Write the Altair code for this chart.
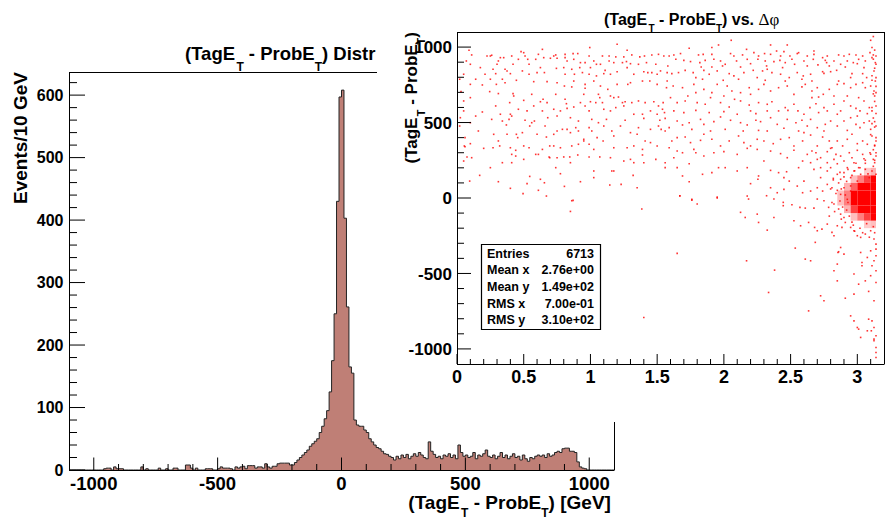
import altair as alt
import pandas as pd

FONT = "Liberation Sans"
FILL = "#bf7f76"
RED = "#ff0000"

# ------------------------------------------------------------------ data
# (TagE_T - ProbE_T) histogram, 10 GeV bins from -1100 to 1100 (counts)
cnt_m1100_m600 = [0, 0, 0, 0, 0, 0, 0, 0, 0, 0,
                  0, 0, 0, 0, 2, 3, 3, 0, 5, 2,
                  2, 2, 0, 0, 0, 0, 0, 0, 0, 5,
                  0, 2, 0, 0, 0, 0, 3, 0, 0, 2,
                  0, 0, 3, 3, 0, 0, 0, 8, 8, 3]
cnt_m600_m100 = [0, 3, 0, 0, 0, 2, 2, 2, 0, 0,
                 2, 5, 3, 3, 3, 2, 0, 5, 3, 5,
                 6, 2, 7, 7, 7, 3, 5, 5, 3, 10,
                 5, 3, 6, 6, 10, 11, 11, 11, 11, 8,
                 8, 12, 16, 20, 24, 28, 32, 38, 42, 46]
cnt_m100_200 = [50, 60, 70, 82, 95, 125, 175, 250, 430, 597,
                608, 403, 261, 165, 155, 80, 72, 70, 70, 64,
                60, 50, 45, 40, 36, 34, 30, 26, 25, 22]
cnt_200_600 = [20, 16, 22, 18, 24, 20, 25, 18, 22, 26,
               22, 28, 24, 20, 18, 45, 30, 25, 20, 22,
               18, 24, 22, 26, 20, 24, 18, 40, 28, 22,
               24, 20, 22, 28, 18, 24, 22, 26, 32, 22]
cnt_600_1100 = [20, 24, 18, 22, 28, 20, 24, 18, 22, 26,
                20, 22, 16, 24, 18, 14, 20, 18, 22, 24,
                22, 24, 20, 26, 22, 24, 28, 30, 28, 34,
                35, 35, 30, 30, 28, 13, 5, 3, 2, 0,
                0, 0, 0, 0, 0, 0, 0, 0, 0, 0]
hist_counts = cnt_m1100_m600 + cnt_m600_m100 + cnt_m100_200 + cnt_200_600 + cnt_600_1100
bin_lo = list(range(-1100, 1100, 10))

hist_x_major = [-1000, -500, 0, 500, 1000]
hist_x_labels = ["-1000", "-500", "0", "500", "1000"]
hist_x_minor = [-900, -800, -700, -600, -400, -300, -200, -100,
                100, 200, 300, 400, 600, 700, 800, 900]
hist_y_major = [0, 100, 200, 300, 400, 500, 600]
hist_y_labels = ["0", "100", "200", "300", "400", "500", "600"]
hist_y_minor = [20, 40, 60, 80, 120, 140, 160, 180, 220, 240, 260, 280, 320, 340, 360, 380,
                420, 440, 460, 480, 520, 540, 560, 580, 620]

# (TagE_T - ProbE_T) vs. delta-phi scatter: points (dphi, dEt)
pts_left = [(1.20,1019),(0.995,997),(1.275,979),(0.64,985),(0.09,979),(0.48,970),(0.87,957),
(0.11,948),(0.225,941),(0.25,941),(0.26,946),(0.325,930),(0.35,930),(0.41,941),(0.50,963),(0.51,941),(0.61,952),(0.725,941),(0.74,948),(0.81,952),(0.81,930),(0.905,957),(0.99,941),(1.09,941),(1.14,941),(1.19,935),(1.25,935),(1.31,948),(1.37,935),(1.405,941),(1.46,948),(1.51,952),(1.55,941),(1.59,941),
(0.07,908),(0.31,908),(0.46,919),(0.53,919),(0.59,919),(0.65,930),(0.70,926),(0.75,926),(0.825,908),(0.875,919),(0.925,897),(0.96,897),(1.025,908),(1.075,886),(1.14,908),(1.175,897),(1.24,897),(1.27,904),(1.30,890),(1.36,886),(1.42,897),(1.49,886),(1.58,875),
(0.10,886),(0.175,864),(0.27,853),(0.30,886),(0.36,853),(0.375,842),(0.42,886),(0.49,842),(0.54,886),(0.625,864),(0.745,859),(0.80,864),(0.86,853),(0.92,864),(1.00,864),(1.045,886),(1.11,846),(1.20,837),(1.275,864),(1.40,837),(1.46,831),(1.525,842),(1.575,831),
(0.05,820),(0.21,820),(0.29,824),(0.40,824),(0.54,820),(0.60,831),(0.655,831),(0.81,820),(0.88,820),(0.94,831),(0.99,820),(1.045,809),(1.10,824),(1.15,820),(1.325,820),(1.43,831),(1.50,820),
(0.02,787),(0.14,787),(0.19,749),(0.25,787),(0.295,753),(0.36,764),(0.445,780),(0.575,771),(0.675,771),(0.75,764),(0.805,742),(0.875,775),(0.96,753),(1.025,775),(1.075,742),(1.13,720),(1.20,753),(1.28,753),(1.30,764),(1.39,775),(1.445,775),(1.50,753),(1.575,775),(0.10,753),(0.34,787),(0.86,736),(0.96,727),(1.57,731),
(0.03,705),(0.245,705),(0.31,692),(0.42,692),(0.425,676),(0.56,687),(0.645,654),(0.74,687),(0.81,654),(0.95,687),(1.06,687),(1.07,665),(1.15,676),(1.175,665),(1.21,669),(1.26,638),(1.36,643),(1.41,632),(1.475,638),(1.545,632),(1.60,665),(0.05,643),(0.10,665),(0.395,632),(0.50,647),(0.625,638),(0.675,632),(0.82,625),(0.925,632),(1.00,638),(1.04,632),(1.09,632),(1.24,632),(1.31,632),(1.51,610),(1.54,588),
(0.05,577),(0.14,543),(0.19,570),(0.29,610),(0.325,555),(0.40,555),(0.41,543),(0.46,588),(0.525,577),(0.575,610),(0.64,577),(0.68,532),(0.725,588),(0.775,577),(0.825,594),(0.875,603),(0.96,610),(0.99,577),(1.10,588),(1.15,577),(1.19,599),(1.25,610),(1.325,555),(1.39,555),(1.45,577),(1.50,555),(1.555,566),(0.025,532),(0.26,521),(0.34,510),(0.39,521),(0.51,515),(0.58,510),(0.75,543),(0.85,532),(0.91,510),(1.01,521),(1.06,499),(1.12,521),(1.26,515),(1.40,528),(1.52,515),(1.56,528),(0.10,499),
(0.02,477),(0.16,444),(0.275,422),(0.37,484),(0.445,422),(0.49,433),(0.545,477),(0.56,499),(0.66,477),(0.75,444),(0.79,455),(0.825,455),(0.89,466),(0.91,444),(0.99,466),(1.01,444),(1.10,477),(1.16,444),(1.225,477),(1.30,433),(1.36,466),(1.45,455),(1.51,477),(1.53,455),(1.56,444),(1.59,466),(0.06,400),(0.375,422),(0.455,400),(0.60,422),(0.67,404),(0.725,422),(0.85,433),(0.95,389),(1.05,400),(1.175,411),(1.35,422),
(0.055,345),(0.06,340),(0.10,360),(0.20,329),(0.27,333),(0.32,345),(0.40,333),(0.44,316),(0.50,345),(0.54,333),(0.59,289),(0.695,345),(0.725,345),(0.775,333),(0.86,345),(0.91,356),(0.99,356),(1.025,322),(1.095,378),(1.175,333),(1.275,333),(1.325,345),(1.39,322),(1.45,367),(1.50,345),(1.59,333),(0.31,378),(1.41,378),(0.64,322),(0.95,378),
(0.075,272),(0.11,267),(0.41,289),(0.44,278),(0.61,289),(0.69,272),(0.695,267),(0.75,267),(0.80,272),(0.845,272),(0.905,285),(0.99,272),(1.07,272),(1.15,267),(1.25,245),(1.30,256),(1.39,285),(1.49,256),(1.56,234),(0.05,245),(0.25,201),(0.34,234),(0.41,234),(0.50,256),(0.74,201),(0.85,234),(1.025,179),(1.16,179),(1.325,234),(1.40,234),
(0.17,150),(0.095,112),(0.31,108),(0.40,64),(0.495,29),(0.545,143),(0.625,124),(0.655,101),(0.67,13),(0.775,161),(0.805,77),(0.87,-16),(0.925,108),(1.025,135),(1.145,86),(1.175,179),(1.23,90),(1.32,150),(1.35,68),(1.56,201),(0.525,95),(0.61,51)]

pts_right = [(2.055,1045),(3.10,1045),(1.91,997),(1.96,1014),(2.35,1014),(2.475,1014),(1.74,992),(2.17,985),(3.11,997),
(1.625,948),(1.675,957),(1.81,948),(1.845,952),(1.91,952),(2.05,957),(2.075,941),(2.14,948),(2.225,963),(2.26,941),(2.305,957),(2.35,952),(2.395,974),(2.425,941),(2.45,970),(2.495,941),(2.56,963),(2.625,941),(2.675,952),(2.74,930),(2.775,941),(2.86,948),(2.90,941),(2.94,952),(2.99,948),(3.04,941),(3.095,963),(3.12,948),(3.14,941),(2.675,974),(2.55,957),
(1.64,919),(1.70,912),(1.75,904),(1.82,897),(1.86,912),(1.925,919),(1.975,908),(2.01,886),(2.095,908),(2.175,919),(2.20,890),(2.255,919),(2.31,908),(2.375,904),(2.42,912),(2.46,897),(2.51,919),(2.60,908),(2.67,919),(2.76,912),(2.77,897),(2.825,908),(2.875,886),(2.925,908),(2.97,897),(3.01,919),(3.06,908),(3.11,930),(3.135,897),(1.83,868),(1.91,868),(1.99,875),(2.125,868),(2.32,875),(2.44,864),(2.53,886),(2.625,875),(2.705,882),(2.79,875),(2.91,868),(3.00,890),(3.05,864),(3.14,886),
(1.61,824),(1.66,831),(1.71,846),(1.77,831),(1.85,846),(1.89,820),(1.95,842),(2.04,824),(2.075,809),(2.15,831),(2.22,846),(2.29,842),(2.325,853),(2.36,831),(2.425,820),(2.49,798),(2.55,831),(2.595,809),(2.65,820),(2.74,837),(2.75,826),(2.80,837),(2.845,846),(2.96,824),(3.04,824),(3.125,842),(3.14,798),(1.79,798),(1.84,787),(1.995,780),(2.11,787),(2.25,798),(2.31,780),(2.46,775),(2.585,787),(2.66,775),(2.86,775),(2.95,798),(3.07,798),(3.135,775),
(1.62,742),(1.69,731),(1.775,753),(1.79,698),(1.85,720),(1.91,698),(1.95,753),(2.025,742),(2.06,709),(2.125,698),(2.19,731),(2.20,687),(2.26,720),(2.30,753),(2.35,709),(2.41,731),(2.475,742),(2.525,687),(2.585,736),(2.61,753),(2.66,709),(2.70,731),(2.745,687),(2.79,720),(2.85,753),(2.90,758),(2.95,731),(2.99,753),(3.04,764),(3.06,731),(3.10,742),(3.125,709),(3.14,698),(2.66,665),(2.71,669),(2.825,676),(2.925,676),(3.01,665),(3.13,676),(1.73,676),(2.00,676),(2.08,654),(1.90,665),
(1.65,632),(1.71,643),(1.80,632),(1.86,621),(1.975,632),(2.04,603),(2.125,643),(2.19,616),(2.26,632),(2.325,621),(2.36,638),(2.41,577),(2.46,599),(2.525,621),(2.555,577),(2.60,555),(2.645,599),(2.69,625),(2.75,599),(2.775,577),(2.825,621),(2.875,577),(2.90,643),(2.95,610),(2.99,594),(3.02,577),(3.05,643),(3.09,599),(3.11,577),(3.14,610),(1.625,577),(1.70,566),(1.79,581),(1.89,566),(2.00,572),(2.10,555),(2.20,577),(2.24,559),(2.325,577),(2.48,581),(2.71,566),(2.85,555),(3.00,543),(3.075,559),
(1.65,510),(1.69,484),(1.74,499),(1.825,521),(1.85,488),(1.925,506),(1.975,537),(2.05,515),(2.125,499),(2.175,484),(2.24,515),(2.275,506),(2.35,532),(2.40,488),(2.475,521),(2.54,499),(2.585,515),(2.625,477),(2.65,521),(2.70,466),(2.76,488),(2.80,510),(2.85,477),(2.90,510),(2.95,532),(2.99,488),(3.02,466),(3.05,499),(3.09,510),(3.11,493),(3.13,506),(3.14,477),(1.76,455),(1.90,444),(2.01,455),(2.145,444),(2.26,448),(2.325,444),(2.45,462),(2.56,444),(2.75,444),(2.925,448),(3.10,455),
(1.61,378),(1.65,400),(1.71,404),(1.75,367),(1.825,382),(1.91,389),(1.975,345),(2.04,378),(2.11,411),(2.15,367),(2.20,345),(2.25,389),(2.30,378),(2.37,360),(2.425,389),(2.49,400),(2.525,345),(2.59,378),(2.65,417),(2.70,345),(2.74,404),(2.79,378),(2.81,333),(2.85,378),(2.89,345),(2.925,389),(2.96,422),(3.00,360),(3.04,378),(3.075,356),(3.11,411),(3.14,378),(3.13,345),(1.85,422),(2.60,433),
(1.65,311),(1.69,300),(1.775,322),(1.79,300),(1.85,278),(1.925,300),(2.00,307),(2.10,289),(2.175,329),(2.25,322),(2.35,311),(2.425,294),(2.475,267),(2.525,316),(2.59,245),(2.625,289),(2.66,311),(2.69,300),(2.725,267),(2.775,307),(2.80,329),(2.84,289),(2.875,278),(2.90,245),(2.94,300),(2.96,267),(3.00,316),(3.04,289),(3.06,250),(3.095,300),(3.12,256),(3.14,278),(3.13,234),(1.625,267),(1.74,227),(2.30,245),(2.65,234),(2.775,234),(2.85,227),(2.975,234),(2.70,256),(2.825,256),
(1.65,201),(1.69,146),(1.74,108),(1.84,157),(1.91,168),(1.96,201),(2.01,201),(2.10,179),(2.175,201),(2.26,146),(2.255,124),(2.35,183),(2.41,168),(2.47,174),(2.56,201),(2.60,112),(2.675,190),(2.725,135),(2.775,179),(2.80,201),(2.85,157),(2.875,124),(2.90,168),(2.925,201),(2.95,135),(2.975,179),(3.00,112),(3.025,157),(3.06,190),(3.09,135),(3.11,179),(3.14,157),(2.45,135),(2.49,112),(2.725,201),(2.82,130),(3.01,201),(2.20,95),
(1.67,13),(1.76,-9),(1.95,6),(2.175,13),(2.35,68),(2.40,35),(2.45,57),(2.55,79),(2.59,35),(2.65,46),(2.70,68),(2.74,46),(2.775,90),(2.81,68),(2.85,51),(2.875,24),(2.90,68),(2.925,-9),(2.95,46),(2.975,13),
(3.12,920),(3.13,860),(3.11,810),(3.14,740),(3.12,690),(3.13,640),(3.11,600),(3.14,560),(3.12,530),(3.13,470),(3.10,420),(3.14,400),(3.13,350),(3.12,320),(3.14,300),(3.11,780),(3.13,980),(3.12,1070)]

pts_low = [(0.86,-18),(0.85,-89),(1.385,-73),(1.67,15),(1.76,-14),(1.80,-40),(1.95,0),(2.185,-7),(2.32,15),(2.375,-7),(2.445,-29),(2.445,-51),(2.51,-45),(2.57,-62),(2.61,-67),(2.675,-67),(2.70,-7),(2.75,-18),(2.785,-62),(2.825,-40),(2.86,-73),(2.875,-107),(2.90,-129),(2.91,-162),(2.125,-95),(2.16,-129),(2.25,-107),(2.26,-162),(2.375,-129),(2.325,-213),(2.525,-151),(2.575,-184),(2.635,-162),(2.68,-195),(2.70,-217),(2.735,-206),(2.775,-173),(2.81,-228),(2.825,-250),(2.85,-184),(2.885,-195),(2.95,-195),(2.975,-217),(3.00,-250),(3.025,-261),(3.06,-239),(3.10,-217),(3.125,-272),(3.14,-306),(3.14,-339),(3.10,-350),(3.14,-383),(3.125,-416),(3.11,-449),(3.14,-482),(3.10,-515),(3.14,-560),(3.06,-549),(3.085,-619),(2.975,-637),(3.125,-681),(2.91,-664),(2.75,-681),(2.635,-748),(2.535,-332),(2.335,-626),(2.38,-478),(2.17,-416),(1.65,-367),(1.40,-792),(2.685,-294),(2.855,-361),(2.86,-356),(2.875,-328),(2.90,-372),(3.025,-361),(3.035,-427),(2.975,-504),(3.01,-571),(3.035,-449),(3.075,-394),(2.85,-438),(2.825,-482),(2.725,-648),(2.95,-781),(2.975,-814),(3.00,-858),(3.01,-869),(3.025,-924),(3.085,-803),(3.11,-814),(3.125,-858),(3.14,-913),(3.125,-935),(3.105,-880),(3.075,-880),(3.125,-946),(3.14,-991),(3.14,-1024),(3.14,-1057),(2.65,-416),(2.61,-405),(2.85,-549)]

pts_fringe = [(2.86,100),(2.88,60),(2.91,20),(2.93,-30),(2.89,-60),(2.92,110),(2.96,150),(2.98,180),(3.02,200),(3.06,230),(3.08,160),(3.12,210),(3.13,250),(2.97,-180),(3.02,-200),(3.07,-170),(3.12,-190),(2.94,-120),(2.87,-20),(2.84,30),(2.83,-90),(2.90,140),(2.95,80),(2.98,-220),(2.92,-80),(2.88,-140),(2.96,-160),(3.04,-230),(3.09,-260),(3.13,-230),(2.99,230),(3.05,260),(3.10,290),(2.93,190),(2.87,170),(2.82,120),(2.80,60),(2.81,-30),(2.79,-120)]

# dense core near dphi = pi: counts in cells (dphi edges x dEt edges)
core_dphi_lo = [2.80, 2.85, 2.90, 2.95, 3.00, 3.05, 3.10]
core_dphi_hi = [2.85, 2.90, 2.95, 3.00, 3.05, 3.10, 3.14]
core_det_lo = [200, 150, 100, 50, 0, -50, -100, -150, -200, -250]
core_counts = [[0, 0, 0, 2, 3, 4, 6],
               [0, 2, 3, 4, 6, 8, 12],
               [2, 3, 6, 10, 20, 30, 40],
               [4, 6, 12, 25, 60, 100, 140],
               [6, 10, 20, 50, 150, 300, 400],
               [6, 10, 20, 50, 150, 300, 400],
               [4, 6, 12, 30, 80, 150, 200],
               [2, 4, 6, 10, 20, 30, 40],
               [0, 2, 3, 4, 6, 8, 10],
               [0, 0, 2, 2, 3, 4, 5]]

sc_x_major = [0, 0.5, 1, 1.5, 2, 2.5, 3]
sc_x_labels = ["0", "0.5", "1", "1.5", "2", "2.5", "3"]
sc_x_minor = [0.1, 0.2, 0.3, 0.4, 0.6, 0.7, 0.8, 0.9, 1.1, 1.2, 1.3, 1.4, 1.6, 1.7, 1.8, 1.9,
              2.1, 2.2, 2.3, 2.4, 2.6, 2.7, 2.8, 2.9, 3.1]
sc_y_major = [-1000, -500, 0, 500, 1000]
sc_y_labels = ["-1000", "-500", "0", "500", "1000"]
sc_y_minor = [-900, -800, -700, -600, -400, -300, -200, -100, 100, 200, 300, 400,
              600, 700, 800, 900]

stat_names = ["Entries", "Mean x", "Mean y", "RMS x", "RMS y"]
stat_values = ["6713", "2.76e+00", "1.49e+02", "7.00e-01", "3.10e+02"]

# ------------------------------------------------------------------ layout (pixels)
W, H = 886, 521
HX0, HX1, HYT, HYB = 69, 614, 72, 470          # histogram frame
SX0, SX1, SYT, SYB = 457, 884, 32, 364         # scatter frame
PAD_X0, PAD_Y1 = 377, 422                      # inset pad

# Liberation Sans Bold advance widths (1/1000 em)
CW = {"(": 333, ")": 333, " ": 278, "-": 333, "T": 611, "a": 556, "g": 611, "E": 667,
      "P": 667, "r": 389, "o": 611, "b": 611, "D": 722, "i": 278, "s": 556, "t": 333,
      "v": 556, ".": 278, "[": 333, "]": 333, "G": 778, "e": 556, "V": 667}


def tw(s, size):
    return sum(CW.get(c, 556) for c in s) / 1000.0 * size


dummy = alt.Data(values=[{"k": 0}])


def txt(s, x, y, size, align="left", angle=0, weight="bold", font=FONT):
    return alt.Chart(dummy).mark_text(
        text=s, align=align, baseline="alphabetic", angle=angle, fontSize=size,
        font=font, fontWeight=weight, color="black"
    ).encode(x=alt.value(x), y=alt.value(y))


def rich_h(pieces, x0, y0, size, sub_size, sub_dy):
    out, x = [], x0
    for s, sub in pieces:
        sz = sub_size if sub else size
        lead = len(s) - len(s.lstrip(" "))
        x += tw(" " * lead, sz)
        core = s.strip(" ")
        out.append(txt(core, x, y0 + (sub_dy if sub else 0), sz))
        x += tw(core, sz) + tw(" " * (len(s) - lead - len(core)), sz)
    return out, x


def rich_width(pieces, size, sub_size):
    return sum(tw(s, sub_size if sub else size) for s, sub in pieces)


def rich_v(pieces, xb, y_top, size, sub_size, sub_dx):
    out = []
    y = y_top + rich_width(pieces, size, sub_size)
    for s, sub in pieces:
        sz = sub_size if sub else size
        lead = len(s) - len(s.lstrip(" "))
        y -= tw(" " * lead, sz)
        core = s.strip(" ")
        out.append(txt(core, xb + (sub_dx if sub else 0), y, sz, angle=270))
        y -= tw(core, sz)
    return out


def hline(x0, x1, y):
    return alt.Chart(dummy).mark_rule(color="black", strokeWidth=1).encode(
        x=alt.value(x0), x2=alt.value(x1), y=alt.value(y))


def vline(x, y0, y1):
    return alt.Chart(dummy).mark_rule(color="black", strokeWidth=1).encode(
        x=alt.value(x), y=alt.value(y0), y2=alt.value(y1))


def xticks(vals, scale, ybase, length):
    return alt.Chart(pd.DataFrame({"v": vals})).mark_rule(color="black", strokeWidth=1).encode(
        x=alt.X("v:Q", scale=scale, axis=None), y=alt.value(ybase), y2=alt.value(ybase - length))


def yticks(vals, scale, xbase, length):
    return alt.Chart(pd.DataFrame({"v": vals})).mark_rule(color="black", strokeWidth=1).encode(
        y=alt.Y("v:Q", scale=scale, axis=None), x=alt.value(xbase), x2=alt.value(xbase + length))


def xlabels(vals, labs, scale, ybase, size):
    return alt.Chart(pd.DataFrame({"v": vals, "t": labs})).mark_text(
        align="center", baseline="alphabetic", fontSize=size, font=FONT,
        fontWeight="bold", color="black"
    ).encode(x=alt.X("v:Q", scale=scale, axis=None), y=alt.value(ybase), text="t:N")


def ylabels(vals, labs, scale, xright, size):
    return alt.Chart(pd.DataFrame({"v": vals, "t": labs})).mark_text(
        align="right", baseline="alphabetic", dy=0.36 * size, fontSize=size, font=FONT,
        fontWeight="bold", color="black"
    ).encode(y=alt.Y("v:Q", scale=scale, axis=None), x=alt.value(xright), text="t:N")


# ------------------------------------------------------------------ histogram
hx = alt.Scale(domain=[-1100, 1100], range=[HX0, HX1], nice=False, zero=False)
hy = alt.Scale(domain=[0, 637], range=[HYB, HYT], nice=False)

hist_df = pd.DataFrame({"x": bin_lo + [1100], "n": hist_counts + [0]})

h_area = alt.Chart(hist_df).mark_area(interpolate="step-after", color=FILL, opacity=1).encode(
    x=alt.X("x:Q", scale=hx, axis=None),
    y=alt.Y("n:Q", scale=hy, axis=None),
    y2=alt.datum(0),
)
h_line = alt.Chart(hist_df).mark_line(interpolate="step-after", color="#222222", strokeWidth=1).encode(
    x=alt.X("x:Q", scale=hx, axis=None), y=alt.Y("n:Q", scale=hy, axis=None))

tt = [("(TagE", False), ("T", True), (" - ProbE", False), ("T", True)]
h_title, _ = rich_h(tt + [(") Distr", False)], 185, 60, 18.5, 12, 11)
xt_pieces = tt + [(") [GeV]", False)]
xt_w = rich_width(xt_pieces, 19, 12.5)
h_xtitle, _ = rich_h(xt_pieces, 611.5 - xt_w, 509, 19, 12, 8)
h_ytitle = txt("Events/10 GeV", 27, HYT, 19, align="right", angle=270)

hist_group = alt.layer(
    h_area, h_line,
    xticks(hist_x_major, hx, HYB, 12.5), xticks(hist_x_minor, hx, HYB, 6),
    yticks(hist_y_major, hy, HX0, 16), yticks(hist_y_minor, hy, HX0, 8),
    xlabels(hist_x_major, hist_x_labels, hx, 490, 18.5),
    ylabels(hist_y_major, hist_y_labels, hy, 63.5, 16),
    hline(HX0, HX1 + 0.5, HYT + 0.5), vline(HX1 + 0.5, HYT, HYB),
    vline(HX0 + 0.5, HYT, HYB + 0.5), hline(HX0, HX1 + 0.5, HYB + 0.5),
    *h_title, *h_xtitle, h_ytitle,
)

# ------------------------------------------------------------------ inset pad
pad = alt.Chart(dummy).mark_rect(color="white").encode(
    x=alt.value(PAD_X0), x2=alt.value(W), y=alt.value(0), y2=alt.value(PAD_Y1))

# ------------------------------------------------------------------ scatter
sx = alt.Scale(domain=[0, 3.2], range=[SX0, SX1], nice=False, zero=False)
sy = alt.Scale(domain=[-1100, 1100], range=[SYB, SYT], nice=False, zero=False)

pts = pts_left + pts_right + pts_low + pts_fringe
pts_df = pd.DataFrame({"dphi": [p[0] for p in pts], "det": [p[1] for p in pts]})

core_rows = []
for r, ylo in enumerate(core_det_lo):
    for c in range(len(core_dphi_lo)):
        if core_counts[r][c] >= 8:
            core_rows.append({"x0": core_dphi_lo[c], "x1": core_dphi_hi[c],
                              "y0": ylo, "y1": ylo + 50, "n": core_counts[r][c]})
core_df = pd.DataFrame(core_rows)

s_pts = alt.Chart(pts_df).mark_square(size=2.6, color=RED, opacity=0.8).encode(
    x=alt.X("dphi:Q", scale=sx, axis=None),
    y=alt.Y("det:Q", scale=sy, axis=None),
)
s_core = alt.Chart(core_df).mark_rect(color=RED).encode(
    x=alt.X("x0:Q", scale=sx, axis=None), x2="x1:Q",
    y=alt.Y("y0:Q", scale=sy, axis=None), y2="y1:Q",
    opacity=alt.Opacity("n:Q", scale=alt.Scale(domain=[0, 40], range=[0, 1], clamp=True), legend=None),
)

s_title, after = rich_h(tt + [(") vs. ", False)], 604, 25, 16, 10, 7)
s_delta = txt("Δφ", after, 25, 17, weight="normal", font="Liberation Serif")
s_ytitle = rich_v(tt + [(")", False)], 417, SYT, 17, 11, 8)

box = alt.Chart(dummy).mark_rect(fill="white", stroke="black", strokeWidth=1.2).encode(
    x=alt.value(481.5), x2=alt.value(600.5), y=alt.value(244.5), y2=alt.value(329.5))
stats = []
for i, (nm, vl) in enumerate(zip(stat_names, stat_values)):
    yb = 257.5 + i * 16.7
    stats.append(txt(nm, 487, yb, 12.5))
    stats.append(txt(vl, 594, yb, 12.5, align="right"))

scatter_group = alt.layer(
    s_pts, s_core,
    xticks(sc_x_major, sx, SYB, 10), xticks(sc_x_minor, sx, SYB, 5),
    yticks(sc_y_major, sy, SX0, 14), yticks(sc_y_minor, sy, SX0, 7),
    xlabels(sc_x_major, sc_x_labels, sx, 383, 18),
    ylabels(sc_y_major, sc_y_labels, sy, 452, 17),
    hline(SX0, SX1 + 0.5, SYT + 0.5), vline(SX1 + 0.5, SYT, SYB),
    vline(SX0 + 0.5, SYT, SYB + 0.5), hline(SX0, SX1 + 0.5, SYB + 0.5),
    *s_title, s_delta, *s_ytitle,
    box, *stats,
)

chart = alt.layer(hist_group, pad, scatter_group).resolve_scale(
    x="independent", y="independent"
).properties(
    width=W, height=H, padding=0, autosize=alt.AutoSizeParams(type="none"),
    background="white",
).configure_view(stroke=None)

chart.save("out.html", embed_options={"renderer": "svg", "actions": False})
